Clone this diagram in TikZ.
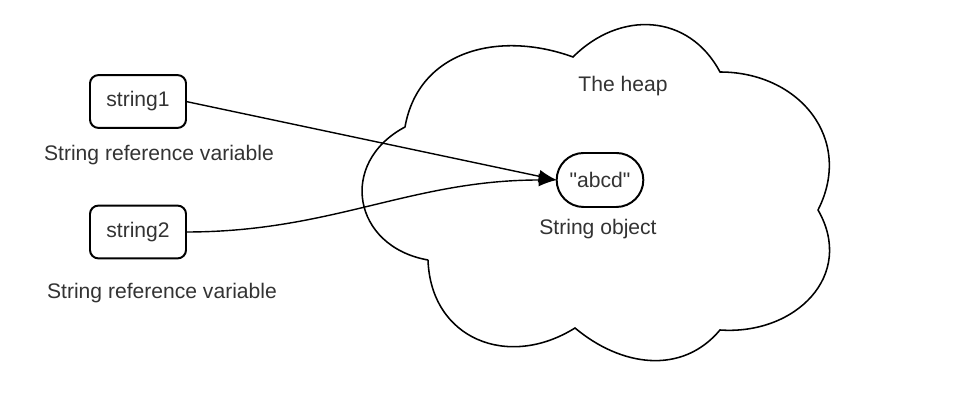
\documentclass[tikz,border=0pt]{standalone}
\usepackage{fontspec}
\setmainfont{Liberation Sans}[Ligatures=TeXOff]
\usetikzlibrary{shapes,arrows,arrows.meta,calc,positioning}

\begin{document}
\begin{tikzpicture}[x=0.025cm,y=0.025cm,
  every node/.style={font=\fontsize{15}{18}\selectfont,text=black!80},
  var/.style={draw,rectangle,rounded corners=6pt,line width=1.4pt,minimum width=2.4cm,minimum height=1.32cm,outer sep=0pt},
  obj/.style={draw,rounded rectangle,line width=1.4pt,minimum width=2.4cm,minimum height=1.35cm,outer sep=0pt},
  ref/.style={line width=1pt,-{Latex[length=4.5mm,width=3.2mm]}}]

        \useasboundingbox (0,0) rectangle (968,400);

        % the heap
        \coordinate (A) at (428,140);
        \coordinate (B) at (405,273);
        \coordinate (C) at (573,343);
        \coordinate (D) at (720,328);
        \coordinate (E) at (818,190);
        \coordinate (F) at (720,70);
        \coordinate (G) at (575,72);
        \draw[line width=1.1pt] (A) to[out=170,in=208,looseness=1.45] (B)
          to[out=80,in=160,looseness=1.1] (C)
          to[out=45,in=118,looseness=1.15] (D)
          to[out=0,in=63,looseness=1.2] (E)
          to[out=-60,in=-4,looseness=1.25] (F)
          to[out=230,in=320,looseness=1.05] (G)
          to[out=212,in=272,looseness=1.25] (A);
        \node (H) at (623,314) {The heap};

        \node[var] (S1) at (138,298.5) {string1};
        \node[var] (S2) at (138,168) {string2};
        \node (L1) at (159,245) {String reference variable};
        \node (L2) at (162,107) {String reference variable};

        \node[obj] (O) at (600,220) {"abcd"};
        \node (L3) at (598,171) {String object};

        \draw[ref] (S1.east) -- (O.west);
        \draw[ref] (S2.east) to[out=0,in=180] (O.west);
      \end{tikzpicture}
\end{document}
